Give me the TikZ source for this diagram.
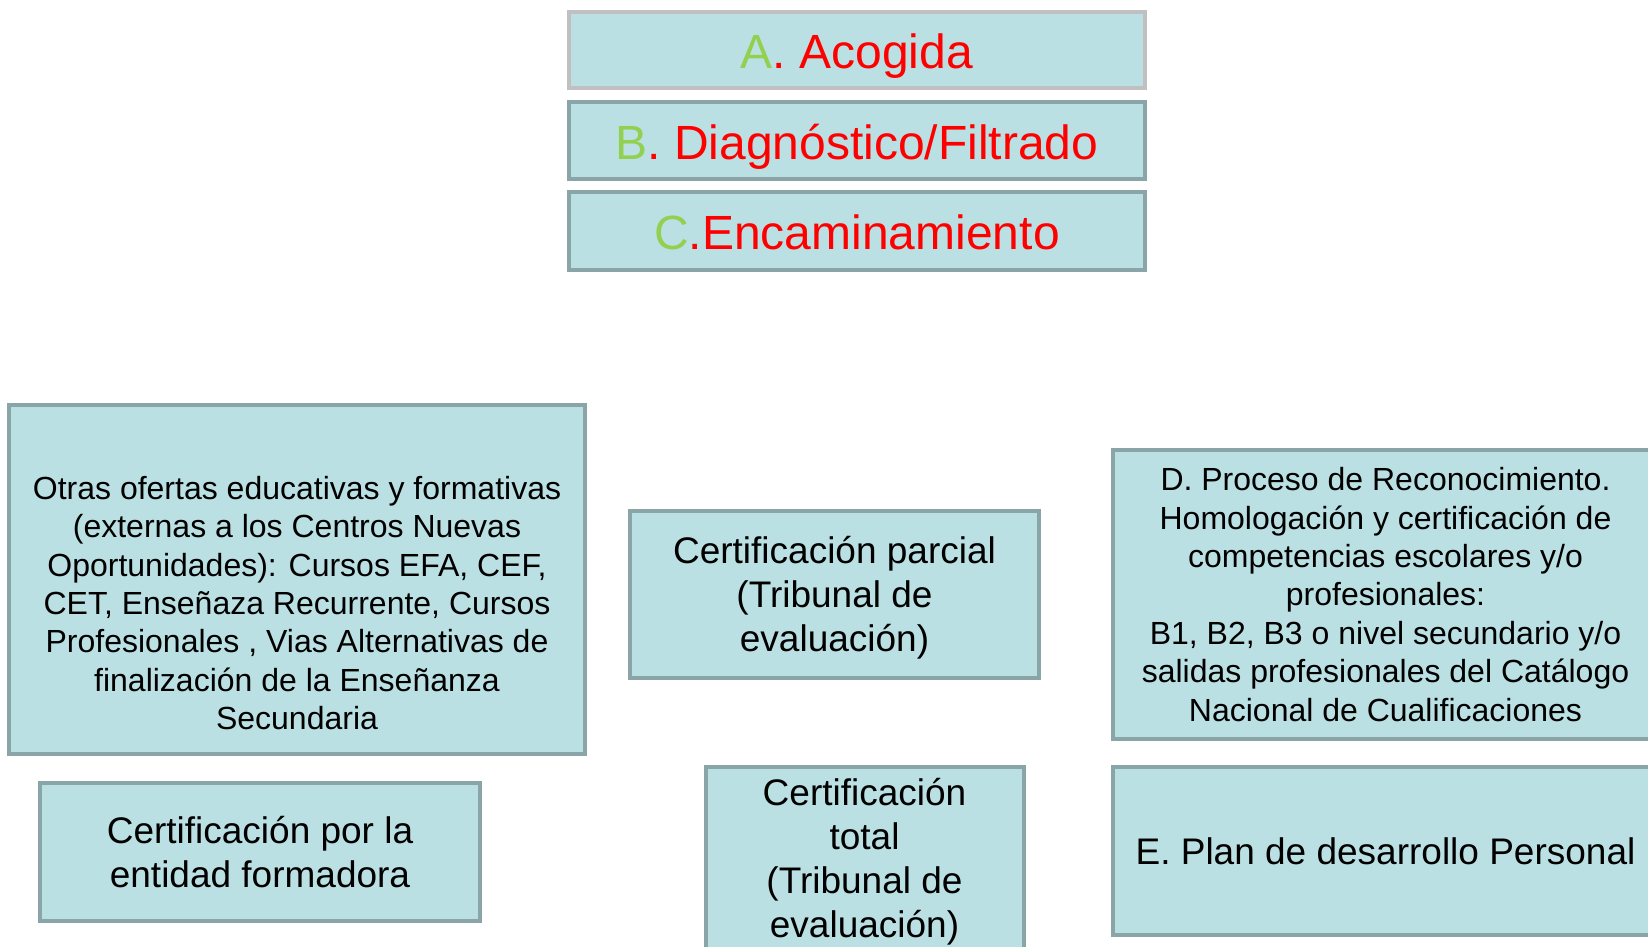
\documentclass[tikz,border=0pt]{standalone}
\usepackage{fontspec}
\setmainfont{Liberation Sans}
\definecolor{cajafondo}{HTML}{BAE0E3}
\definecolor{cajaborde}{HTML}{8AA5A8}
\definecolor{bordegris}{HTML}{C0C0C0}
\definecolor{letraverde}{HTML}{92D050}
\begin{document}
\begin{tikzpicture}[x=1pt,y=-1pt,
    caja/.style={draw=cajaborde,line width=4pt,fill=cajafondo,inner sep=0pt,align=center},
    texto/.style={align=center,font=\fontsize{32}{38.4}\selectfont},
    grande/.style={font=\fontsize{37}{44}\selectfont},
    titulo/.style={font=\fontsize{48}{56}\selectfont,text=red,text height=37pt,text depth=0pt}]
    \clip (0,0) rectangle (1648,946);
    \fill[white] (0,0) rectangle (1648,946);
    % fases A, B, C
    \node[caja,draw=bordegris,minimum width=576,minimum height=76,titulo] (F_A) at (857,50)
        {{\color{letraverde}A}. Acogida};
    \node[caja,minimum width=576,minimum height=77,titulo] (F_B) at (857,140.5)
        {{\color{letraverde}B}. Diagnóstico/Filtrado};
    \node[caja,minimum width=576,minimum height=78,titulo] (F_C) at (857,231)
        {{\color{letraverde}C}.Encaminamiento};
    % salidas
    \node[caja,minimum width=576,minimum height=349] (S_0) at (297,579.5) {};
    \node[texto] (S_0t) at (297,603)
        {Otras ofertas educativas y formativas\\
         (externas a los Centros Nuevas\\
         Oportunidades): Cursos EFA, CEF,\\
         CET, Enseñaza Recurrente, Cursos\\
         Profesionales , Vias Alternativas de\\
         finalización de la Enseñanza\\
         Secundaria};
    \node[caja,grande,text depth=2pt,minimum width=409,minimum height=167] (S_1) at (834.5,594.5)
        {Certificación parcial\\(Tribunal de\\evaluación)};
    \node[caja,texto,minimum width=545,minimum height=289] (S_2) at (1385.5,594.5)
        {D. Proceso de Reconocimiento.\\
         Homologación y certificación de\\
         competencias escolares y/o\\
         profesionales:\\
         B1, B2, B3 o nivel secundario y/o\\
         salidas profesionales del Catálogo\\
         Nacional de Cualificaciones};
    \node[caja,grande,minimum width=440,minimum height=138] (S_3) at (260,852)
        {Certificación por la\\entidad formadora};
    \node[caja,grande,minimum width=318,minimum height=190] (S_4) at (864.5,862)
        {Certificación\\total\\(Tribunal de\\evaluación)};
    \node[caja,grande,minimum width=545,minimum height=168] (S_5) at (1385.5,851)
        {E. Plan de desarrollo Personal};
\end{tikzpicture}
\end{document}
